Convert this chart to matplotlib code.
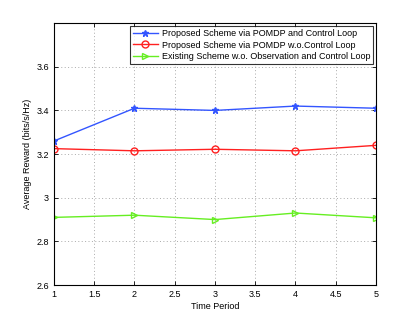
import matplotlib
matplotlib.use("Agg")
import matplotlib.pyplot as plt

x = [1, 2, 3, 4, 5]
blue = [3.26, 3.41, 3.40, 3.42, 3.41]
red = [3.225, 3.215, 3.222, 3.215, 3.24]
green = [2.91, 2.92, 2.90, 2.93, 2.908]
labels = ["Proposed Scheme via POMDP and Control Loop",
          "Proposed Scheme via POMDP w.o.Control Loop",
          "Existing Scheme w.o. Observation and Control Loop"]
xticks = [1, 1.5, 2, 2.5, 3, 3.5, 4, 4.5, 5]
yticks = [2.6, 2.8, 3.0, 3.2, 3.4, 3.6]
ytick_labels = ["2.6", "2.8", "3", "3.2", "3.4", "3.6"]

plt.rcParams['font.family'] = ['Liberation Sans', 'DejaVu Sans']
fig = plt.figure(figsize=(4.15, 3.21), dpi=100)
ax = fig.add_axes([0.130, 0.112, 0.776, 0.816])
ax.plot(x, blue, color='#3355ff', marker='*', markersize=4.5, lw=1, label=labels[0])
ax.plot(x, red, color='#ff2020', marker='o', markersize=5, mfc='none', lw=1, label=labels[1])
ax.plot(x, green, color='#66ee22', marker='>', markersize=5, mfc='none', lw=1, label=labels[2])
ax.set_xlim(1, 5)
ax.set_ylim(2.6, 3.8)
ax.set_xticks(xticks)
ax.set_xticklabels([f"{t:g}" for t in xticks])
ax.set_yticks(yticks)
ax.set_yticklabels(ytick_labels)
ax.tick_params(direction='in', labelsize=6.5, length=3, width=0.6, top=True, right=True)
ax.grid(True, linestyle=(0, (1, 2.5)), color='#aaaaaa', lw=0.7)
for s in ax.spines.values():
    s.set_linewidth(0.8)
ax.set_xlabel("Time Period", fontsize=6.5, labelpad=2)
ax.set_ylabel("Average Reward (bits/s/Hz)", fontsize=6.5, labelpad=3)
leg = ax.legend(loc='upper right', fontsize=6.5, frameon=True, fancybox=False,
                edgecolor='black', borderaxespad=0.35, handlelength=2.8,
                borderpad=0.3, labelspacing=0.28, handletextpad=0.4)
leg.get_frame().set_linewidth(0.8)
fig.savefig("out.png", dpi=100)
